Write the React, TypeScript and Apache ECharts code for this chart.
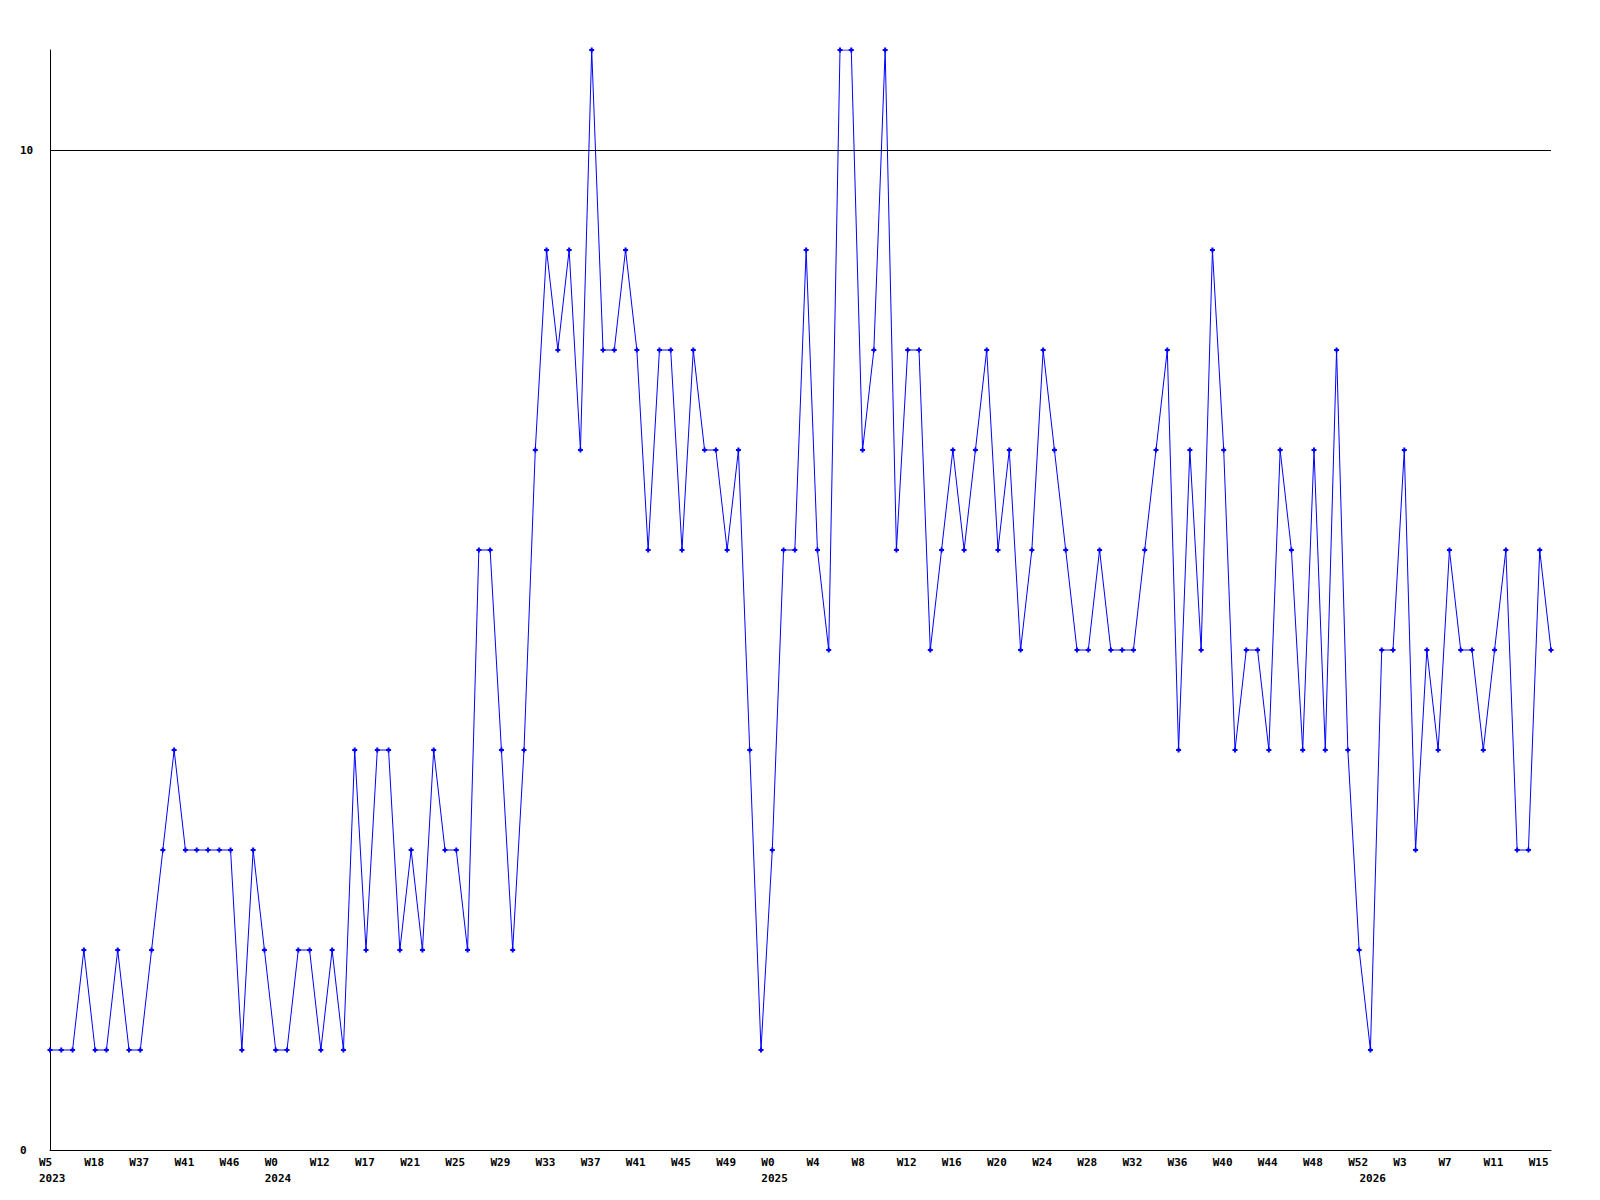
import React, { useEffect, useRef } from "react";
import * as echarts from "echarts";

// Weekly counts, one per point (134 points)
const values: number[] = [
  1, 1, 1, 2, 1, 1, 2, 1, 1, 2,
  3, 4, 3, 3, 3, 3, 3, 1, 3, 2,
  1, 1, 2, 2, 1, 2, 1, 4, 2, 4,
  4, 2, 3, 2, 4, 3, 3, 2,
  6, 6, 4, 2, 4, 7, 9, 8, 9, 7, 11, 8, 8, 9, 8, 6, 8, 8, 6, 8, 7, 7, 6, 7, 4, 1,
  3, 6, 6, 9, 6, 5, 11, 11, 7, 8, 11, 6, 8, 8, 5, 6, 7, 6, 7, 8, 6, 7, 5, 6,
  8, 7, 6, 5, 5, 6, 5, 5, 5, 6, 7, 8, 4, 7, 5, 9, 7, 4, 5, 5, 4, 7, 6,
  4, 7, 4, 8, 4, 2, 1, 5, 5, 7, 3, 5, 4, 6, 5, 5, 4, 5, 6, 3, 3, 6, 5,
];

// Week tick labels, shown on every 4th point
const weekTicks: string[] = [
  "W5", "W18", "W37", "W41", "W46", "W0", "W12", "W17", "W21", "W25",
  "W29", "W33", "W37", "W41", "W45", "W49", "W0", "W4", "W8", "W12",
  "W16", "W20", "W24", "W28", "W32", "W36", "W40", "W44", "W48", "W52",
  "W3", "W7", "W11", "W15",
];
const tickStep = 4;

// Year labels at the first point of each year
const yearIndices: number[] = [0, 20, 64, 117];
const yearNames: string[] = ["2023", "2024", "2025", "2026"];

const yMin = 0;
const yMax = 11;
const yInterval = 10;
const refLineValue = 10;

const categories: string[] = values.map((_, i) => {
  const week = i % tickStep === 0 ? weekTicks[i / tickStep] ?? "" : "";
  const yi = yearIndices.indexOf(i);
  const year = yi >= 0 ? yearNames[yi] : "";
  if (!week && !year) return "";
  return year ? `${week}\n${year}` : week;
});

const FONT = "'DejaVu Sans Mono', monospace";

export default function App() {
  const ref = useRef<HTMLDivElement>(null);
  useEffect(() => {
    if (!ref.current) return;
    const chart = echarts.init(ref.current, undefined, { renderer: "svg" });
    chart.setOption({
      animation: false,
      backgroundColor: "#ffffff",
      grid: { left: 50, right: 49, top: 50, bottom: 50, containLabel: false },
      xAxis: {
        type: "category",
        data: categories,
        boundaryGap: false,
        axisLine: { show: true, lineStyle: { color: "#000", width: 1 } },
        axisTick: { show: false },
        splitLine: { show: false },
        axisLabel: {
          interval: (index: number) => categories[index] !== "",
          align: "left",
          padding: [0, 0, 0, -11],
          margin: 4,
          lineHeight: 16,
          fontFamily: FONT,
          fontSize: 11,
          fontWeight: "bold",
          color: "#000",
        },
      },
      yAxis: {
        type: "value",
        min: yMin,
        max: yMax,
        interval: yInterval,
        axisLine: { show: true, lineStyle: { color: "#000", width: 1 } },
        axisTick: { show: false },
        splitLine: { show: false },
        axisLabel: {
          showMaxLabel: false,
          align: "left",
          margin: 30,
          fontFamily: FONT,
          fontSize: 11,
          fontWeight: "bold",
          color: "#000",
          formatter: (v: number) => (v === yMax ? "" : String(v)),
        },
      },
      series: [
        {
          type: "line",
          data: values,
          showSymbol: true,
          showAllSymbol: true,
          symbol: "path://M1.5,0H3.5V1.5H5V3.5H3.5V5H1.5V3.5H0V1.5H1.5Z",
          symbolSize: 5,
          lineStyle: { color: "#0000ff", width: 1 },
          itemStyle: { color: "#0000ff" },
          emphasis: { disabled: true },
          markLine: {
            silent: true,
            symbol: "none",
            label: { show: false },
            lineStyle: { color: "#000", width: 1, type: "solid" },
            data: [{ yAxis: refLineValue }],
          },
        },
      ],
    });
    return () => chart.dispose();
  }, []);
  return (
    <div
      ref={ref}
      style={{ position: "absolute", left: 0, top: 0, width: 1600, height: 1200 }}
    />
  );
}
